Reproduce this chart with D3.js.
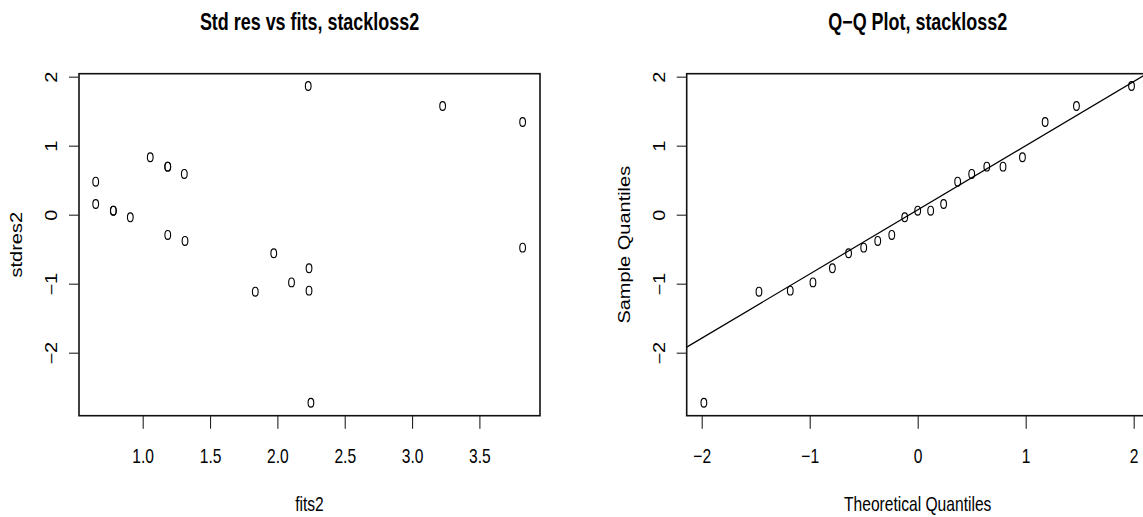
<!DOCTYPE html>
<html>
<head>
<meta charset="utf-8">
<script src="https://cdn.jsdelivr.net/npm/d3@7"></script>
<style>
  body { margin: 0; background: #fff; }
  svg text { font-family: "Liberation Sans", Arial, Helvetica, sans-serif; fill: #000; }
</style>
</head>
<body>
<svg width="1143" height="517"></svg>
<script>
// fitted values and standardized residuals
const fits2 = [0.651, 0.651, 0.782, 0.782, 0.908, 1.056, 1.186, 1.186, 1.309, 1.186, 1.314,
  1.973, 2.229, 3.227, 3.821, 3.821, 2.235, 2.235, 2.249, 1.836, 2.105];
const stdres2 = [0.478, 0.155, 0.058, 0.058, -0.038, 0.832, 0.696, 0.696, 0.590, -0.294, -0.381,
  -0.559, 1.865, 1.575, 1.343, -0.478, -0.777, -1.101, -2.725, -1.116, -0.981];

// Q-Q panel
const theoQ = [-1.98, -1.47, -1.18, -0.97, -0.79, -0.64, -0.50, -0.37, -0.24, -0.12, 0,
  0.12, 0.24, 0.37, 0.50, 0.64, 0.79, 0.97, 1.18, 1.47, 1.98];
const sampleQ = [-2.725, -1.116, -1.101, -0.981, -0.777, -0.559, -0.478, -0.381, -0.294, -0.038, 0.058,
  0.058, 0.155, 0.478, 0.590, 0.696, 0.696, 0.832, 1.343, 1.575, 1.865];
const qqLine = { slope: 0.93, intercept: 0.07 };

const fitsTicks = [1.0, 1.5, 2.0, 2.5, 3.0, 3.5];
const resTicks = [-2, -1, 0, 1, 2];
const theoTicks = [-2, -1, 0, 1, 2];

const svg = d3.select("svg");
const sx = 0.78; // the original is squeezed horizontally
const minus = (s) => s.replace("-", "\u2212");

const plotTop = 73.7, plotBottom = 415.7;
const y = d3.scaleLinear().domain([-2.913, 2.043]).range([plotBottom, plotTop]);

function panel(opts) {
  const x = d3.scaleLinear().domain(opts.xDomain).range([opts.left, opts.right]);
  const g = svg.append("g");
  const cx = (opts.left + opts.right) / 2;

  // points
  g.append("g")
    .selectAll("ellipse")
    .data(opts.xs.map((d, i) => [d, opts.ys[i]]))
    .enter()
    .append("ellipse")
    .attr("cx", (d) => x(d[0]))
    .attr("cy", (d) => y(d[1]))
    .attr("rx", 3.5 * 0.82)
    .attr("ry", 4.4)
    .attr("fill", "none")
    .attr("stroke", "#000")
    .attr("stroke-width", 1.1);

  if (opts.line) {
    const id = "clip" + Math.round(opts.left);
    svg.append("clipPath").attr("id", id)
      .append("rect")
      .attr("x", opts.left).attr("y", plotTop)
      .attr("width", opts.right - opts.left).attr("height", plotBottom - plotTop);
    const [x0, x1] = x.domain();
    g.append("line")
      .attr("clip-path", `url(#${id})`)
      .attr("x1", x(x0)).attr("y1", y(opts.line.intercept + opts.line.slope * x0))
      .attr("x2", x(x1)).attr("y2", y(opts.line.intercept + opts.line.slope * x1))
      .attr("stroke", "#000")
      .attr("stroke-width", 1.2);
  }

  // box
  g.append("rect")
    .attr("x", opts.left).attr("y", plotTop)
    .attr("width", opts.right - opts.left).attr("height", plotBottom - plotTop)
    .attr("fill", "none")
    .attr("stroke", "#111")
    .attr("stroke-width", 1.6);

  // axes
  const xAxis = d3.axisBottom(x).tickValues(opts.xTicks).tickSize(13).tickSizeOuter(0)
    .tickFormat(opts.xFormat);
  const xg = g.append("g").attr("transform", `translate(0,${plotBottom})`).call(xAxis);
  const yAxis = d3.axisLeft(y).tickValues(resTicks).tickSize(10).tickSizeOuter(0)
    .tickFormat((d) => minus(String(d)));
  const yg = g.append("g").attr("transform", `translate(${opts.left},0)`).call(yAxis);

  [xg, yg].forEach((a) => {
    a.select(".domain").remove();
    a.selectAll(".tick line").attr("stroke", "#222").attr("stroke-width", 1.1);
    a.selectAll("text").attr("font-size", 20).attr("font-family", null);
  });
  xg.selectAll(".tick text")
    .attr("y", null).attr("dy", null)
    .attr("transform", `translate(0,47) scale(${sx},1)`);
  yg.selectAll(".tick text")
    .attr("x", null).attr("dy", null)
    .attr("text-anchor", "middle")
    .attr("transform", `translate(-22,0) scale(${sx},1) rotate(-90)`);

  // titles
  g.append("text")
    .attr("transform", `translate(${cx},29.5) scale(${sx},1)`)
    .attr("text-anchor", "middle")
    .attr("font-size", 23)
    .attr("font-weight", "bold")
    .text(opts.title);
  g.append("text")
    .attr("transform", `translate(${cx},511) scale(${sx},1)`)
    .attr("text-anchor", "middle")
    .attr("font-size", 20)
    .text(opts.xLabel);
  g.append("text")
    .attr("transform", `translate(${opts.left - 57},${(plotTop + plotBottom) / 2}) scale(${sx},1) rotate(-90)`)
    .attr("text-anchor", "middle")
    .attr("font-size", 20)
    .text(opts.yLabel);
}

panel({
  left: 79, right: 540,
  xDomain: [0.527, 3.95],
  xs: fits2, ys: stdres2,
  xTicks: fitsTicks, xFormat: d3.format(".1f"),
  title: "Std res vs fits, stackloss2",
  xLabel: "fits2", yLabel: "stdres2"
});

panel({
  left: 686.7, right: 1148.7,
  xDomain: [-2.139, 2.139],
  xs: theoQ, ys: sampleQ,
  line: qqLine,
  xTicks: theoTicks, xFormat: (d) => minus(String(d)),
  title: "Q\u2212Q Plot, stackloss2",
  xLabel: "Theoretical Quantiles", yLabel: "Sample Quantiles"
});
</script>
</body>
</html>
